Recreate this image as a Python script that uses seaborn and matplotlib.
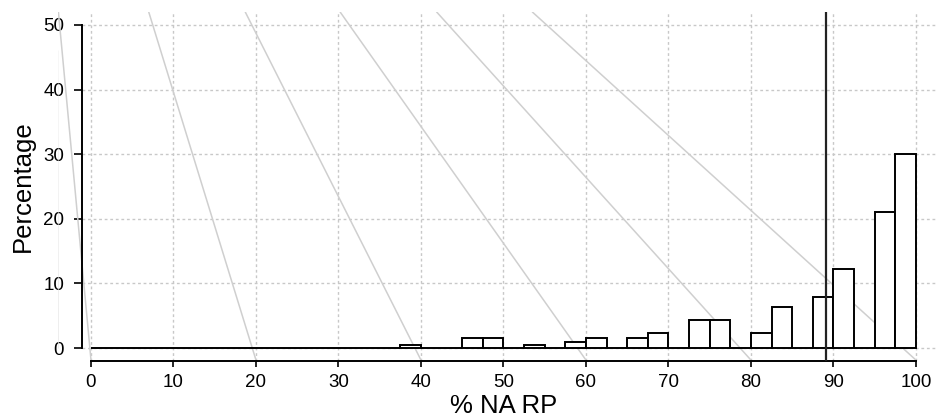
# histogram of % NA RP with reference lines
import numpy as np
import pandas as pd
import matplotlib
matplotlib.use('Agg')
import matplotlib.pyplot as plt
import seaborn as sns

# bin starts (width 2.5) and the percentage in each bin
bin_start = [37.5, 45.0, 47.5, 52.5, 57.5, 60.0, 65.0, 67.5, 72.5, 75.0,
             80.0, 82.5, 87.5, 90.0, 95.0, 97.5]
percent = [0.5, 1.5, 1.5, 0.5, 1.0, 1.5, 1.5, 2.4, 4.4, 4.4,
           2.4, 6.4, 7.9, 12.3, 21.0, 30.0]

# grey diagonal guide lines: x where they meet the top and the x axis
guide_top_x = [-3.95, 7.0, 18.7, 30.2, 41.9, 53.5]
guide_bottom_x = [0, 20, 40, 60, 80, 100]

cutoff = 89.1
x_ticks = list(range(0, 101, 10))
y_ticks = list(range(0, 51, 10))

sns.set_style('white')
plt.rcParams['font.family'] = ['Liberation Sans', 'DejaVu Sans']
plt.rcParams['text.color'] = 'black'
plt.rcParams['axes.labelcolor'] = 'black'
plt.rcParams['xtick.color'] = 'black'
plt.rcParams['ytick.color'] = 'black'

fig = plt.figure(figsize=(9.37, 4.19), dpi=100)
ax = fig.add_axes([58 / 937, 58 / 419, 879 / 937, 349 / 419])

XMIN, XMAX = -4.0, 102.55
YMIN, YMAX = -2.0, 52.0
SPINE_X = -1.15

# grid
for yv in y_ticks:
    ax.plot([SPINE_X, XMAX], [yv, yv], color='#c8c8c8', lw=1,
            ls=(0, (2, 2)), zorder=0)
for xv in x_ticks:
    ax.plot([xv, xv], [YMIN, YMAX], color='#c8c8c8', lw=1,
            ls=(0, (2, 2)), zorder=0)

# guide lines
for xt, xb in zip(guide_top_x, guide_bottom_x):
    ax.plot([xt, xb], [YMAX, -1.86], color='#cfcfcf', lw=1.1, zorder=1)
ax.plot([-4.05, -4.0], [46, 0], color='#e6e6e6', lw=1.0, zorder=1)

df = pd.DataFrame({'x': np.array(bin_start) + 1.25, 'pct': percent})
sns.histplot(data=df, x='x', weights='pct', binwidth=2.5, binrange=(0, 100),
             stat='count', color='white', edgecolor='black', linewidth=1.4,
             alpha=1, ax=ax, zorder=2)

ax.axvline(cutoff, color='#222222', lw=1.6, zorder=3)

ax.set_xlim(XMIN, XMAX)
ax.set_ylim(YMIN, YMAX)
ax.set_xticks(x_ticks)
ax.set_yticks(y_ticks)

for s in ['top', 'right']:
    ax.spines[s].set_visible(False)
ax.spines['left'].set_position(('data', SPINE_X))
ax.spines['left'].set_bounds(0, 50)
ax.spines['bottom'].set_bounds(0, 100)
for s in ['left', 'bottom']:
    ax.spines[s].set_linewidth(1.4)
    ax.spines[s].set_color('black')

ax.tick_params(axis='x', length=4.5, width=1.2, pad=5, labelsize=13.5,
               direction='out', bottom=True, colors='black')
ax.tick_params(axis='y', length=5.5, width=1.2, pad=7, labelsize=13.5,
               direction='out', left=True, colors='black')

ax.set_xlabel('% NA RP', fontsize=18.5, color='black')
ax.set_ylabel('Percentage', fontsize=18.5, color='black')
ax.xaxis.set_label_coords((503.5 - 58) / 879, -0.13)
ax.yaxis.set_label_coords((23 - 58) / 879, (361 - 186.5) / 349)
ax.xaxis.label.set_va('center')
ax.yaxis.label.set_va('center')

fig.savefig('out.png', dpi=100)
plt.close(fig)
